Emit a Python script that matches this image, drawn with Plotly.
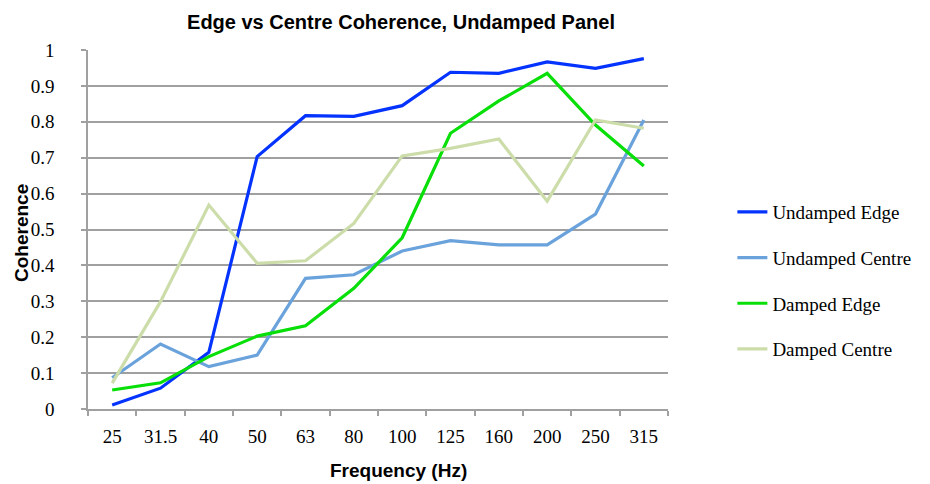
import plotly.graph_objects as go

frequencies = ["25", "31.5", "40", "50", "63", "80", "100", "125", "160", "200", "250", "315"]
undamped_edge = [0.011, 0.058, 0.158, 0.703, 0.817, 0.815, 0.845, 0.938, 0.935, 0.967, 0.949, 0.976]
undamped_centre = [0.087, 0.181, 0.118, 0.150, 0.364, 0.374, 0.440, 0.469, 0.457, 0.457, 0.543, 0.805]
damped_edge = [0.053, 0.073, 0.146, 0.203, 0.232, 0.336, 0.477, 0.768, 0.858, 0.935, 0.791, 0.677]
damped_centre = [0.072, 0.299, 0.568, 0.406, 0.413, 0.517, 0.705, 0.726, 0.752, 0.579, 0.805, 0.782]

series = [
    ("Undamped Edge", undamped_edge, "#0433FF"),
    ("Undamped Centre", undamped_centre, "#6AA2DC"),
    ("Damped Edge", damped_edge, "#08DF08"),
    ("Damped Centre", damped_centre, "#CCDDAA"),
]

fig = go.Figure()
for i, (name, vals, color) in enumerate(series):
    fig.add_trace(go.Scatter(
        x=frequencies, y=vals, name=name, mode="lines",
        line=dict(color=color, width=3.2),
        legendgroup=f"g{i}",
    ))

serif = "Liberation Serif, Times New Roman, serif"
sans = "Liberation Sans, Arial, sans-serif"

# the page body adds an 8px offset; plot area targets page x 88-668, y 50-409
fig.update_layout(
    width=930, height=484,
    paper_bgcolor="white", plot_bgcolor="white",
    margin=dict(l=80, r=270, t=42, b=83),
    title=dict(text="<b>Edge vs Centre Coherence, Undamped Panel</b>",
               x=393 / 930, xanchor="center", xref="container",
               y=1 - 14 / 484, yanchor="middle", yref="container",
               font=dict(family=sans, size=20, color="black")),
    legend=dict(x=1.111, y=0.358, xanchor="left", yanchor="middle",
                font=dict(family=serif, size=19, color="black"),
                traceorder="grouped", tracegroupgap=18,
                bgcolor="rgba(0,0,0,0)"),
    font=dict(family=serif, size=19, color="black"),
    annotations=[
        dict(text="<b>Frequency (Hz)</b>", xref="paper", yref="paper",
             x=(398 - 88) / 580, y=-(470 - 409) / 359,
             xanchor="center", yanchor="middle", showarrow=False,
             font=dict(family=sans, size=19, color="black")),
        dict(text="<b>Coherence</b>", xref="paper", yref="paper",
             x=-(88 - 21) / 580, y=(409 - 233) / 359, textangle=-90,
             xanchor="center", yanchor="middle", showarrow=False,
             font=dict(family=sans, size=19, color="black")),
    ],
)

fig.update_xaxes(
    type="category", range=[-0.5, 11.5],
    tickson="boundaries", ticks="outside", ticklen=5,
    tickcolor="#A0A0A0", tickwidth=1.5,
    showline=True, linecolor="#A0A0A0", linewidth=1.5,
    showgrid=False, ticklabelstandoff=9,
    tickfont=dict(family=serif, size=19, color="black"),
)
fig.update_yaxes(
    range=[0, 1], dtick=0.1, tick0=0,
    ticks="outside", ticklen=5, tickcolor="#A0A0A0", tickwidth=1.5,
    showline=True, linecolor="#A0A0A0", linewidth=1.5,
    showgrid=True, gridcolor="#A0A0A0", gridwidth=1.5,
    zeroline=False, ticklabelstandoff=23,
    tickfont=dict(family=serif, size=19, color="black"),
)

fig.write_html("out.html")
